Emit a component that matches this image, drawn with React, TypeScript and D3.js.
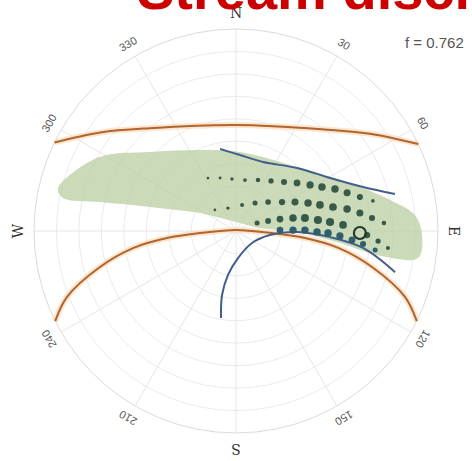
import React, { useEffect, useRef } from 'react';
import * as d3 from 'd3';

const width = 472;
const height = 461;
const cx = 236;
const cy = 231;
const R = 202;

// sky positions, azimuth / zenith in degrees
const upperArcAz = [296, 306, 320, 0, 40, 54, 64.5];
const upperArcZen = [90, 74.7, 59.8, 47.2, 59.2, 73.7, 90];
const lowerArcAz = [243.5, 248.7, 255.2, 260.6, 264.2, 266.8, 0, 93.2, 95.8, 99.4, 104.8, 111.3, 116.5];
const lowerArcZen = [90, 80.8, 62.7, 46.5, 30.9, 16, 0.5, 16, 30.9, 46.5, 62.7, 80.8, 90];

const bandAz = [283, 285.7, 298.6, 312.6, 336, 2.9, 43.6, 66.2, 78.6, 84.9, 91.2, 98.4, 99.8, 96.6, 90.9, 82.9, 26.6, 306.4, 296.6, 285.6, 282, 280.8];
const bandZen = [81.5, 80.5, 69, 52, 39.5, 35.2, 39.4, 54, 70, 80, 82.9, 82, 65.1, 46.6, 27.2, 10.8, 4, 10.5, 17.9, 39.8, 61.9, 78.5];

const upperStreamAz = [349, 3, 21.4, 44.1, 60.6, 70.9, 76.9];
const upperStreamZen = [37.2, 33.9, 33, 39.1, 48.1, 59.9, 72.7];
const lowerStreamAz = [189.8, 192.3, 190.3, 175.8, 126.9, 96.7, 90.9, 93.7, 97.6, 104.5];
const lowerStreamZen = [39.3, 29.2, 19.9, 12.1, 8.9, 15.2, 27.2, 42, 57.1, 73.2];

// dot grid, east / north offsets from zenith in degrees, with density
const row1E = [-12.5, -7.1, -1.8, 4.0, 9.8, 15.6, 21.4, 27.2, 33.0, 38.3, 44.1, 49.5, 55.2, 61.0];
const row1N = [23.6, 23.6, 23.2, 22.7, 22.7, 22.3, 21.8, 21.4, 20.5, 19.6, 18.7, 17.0, 15.1, 13.4];
const row1D = [0.1, 0.12, 0.16, 0.2, 0.28, 0.37, 0.5, 0.62, 0.71, 0.75, 0.75, 0.67, 0.5, 0.18];
const row2E = [-9.4, -3.6, 2.7, 8.5, 14.3, 20.5, 26.3, 32.1, 37.4, 43.2, 49.5, 55.2, 60.6, 65.9];
const row2N = [9.4, 10.2, 11.6, 12.5, 12.9, 12.9, 12.9, 12.5, 11.6, 10.7, 9.8, 8.0, 5.8, 3.6];
const row2D = [0.1, 0.16, 0.22, 0.34, 0.43, 0.54, 0.67, 0.75, 0.8, 0.8, 0.75, 0.67, 0.5, 0.28];
const row3E = [9.4, 14.3, 19.6, 25.4, 30.7, 36.5, 41.9, 47.7, 58.4, 63.3, 67.7];
const row3N = [3.6, 4.5, 5.3, 5.8, 5.8, 4.9, 4.0, 2.7, -1.8, -4.5, -7.6];
const row3D = [0.34, 0.47, 0.62, 0.75, 0.85, 0.9, 0.9, 0.8, 0.54, 0.37, 0.22];
const row4E = [19.6, 25.4, 30.7, 36.1, 41.0, 46.3, 51.7, 56.6, 62.0];
const row4N = [0.4, 0.4, 0.4, -0.4, -0.9, -2.2, -4.0, -5.8, -8.5];
const row4D = [0.62, 0.71, 0.75, 0.75, 0.75, 0.71, 0.62, 0.5, 0.34];

const markerE = 55.2;
const markerN = -0.9;

const rings = [10, 20, 30, 40, 50, 60, 70, 80, 90];
const spokes = [0, 30, 60, 90, 120, 150, 180, 210, 240, 270, 300, 330];
const cardinals = ['N', 'E', 'S', 'W'];
const cardinalAz = [0, 90, 180, 270];
const degreeTicks = [30, 60, 120, 150, 210, 240, 300, 330];

const App: React.FC = () => {
  const ref = useRef<SVGSVGElement>(null);

  useEffect(() => {
    const { current: svgEl } = ref;
    if (!svgEl) {
      return;
    }
    const svg = d3.select(svgEl);
    svg.selectAll('*').remove();

    const r = d3.scaleLinear().domain([0, 90]).range([0, R]);
    const size = d3.scaleSqrt().domain([0, 1]).range([0, 4.3]);
    const rad = (a: number) => (a * Math.PI) / 180;
    const polar = (az: number, zen: number): [number, number] => [
      cx + r(zen) * Math.sin(rad(az)),
      cy - r(zen) * Math.cos(rad(az)),
    ];
    const pts = (az: number[], zen: number[]) => az.map((a, i) => polar(a, zen[i]));

    const line = d3.line().curve(d3.curveCatmullRom.alpha(0.5));
    const closed = d3.line().curve(d3.curveCatmullRomClosed.alpha(0.5));

    // grid
    const grid = svg.append('g');
    grid
      .selectAll('circle')
      .data(rings)
      .join('circle')
      .attr('cx', cx)
      .attr('cy', cy)
      .attr('r', (d) => r(d))
      .attr('fill', 'none')
      .attr('stroke', (d) => (d === 90 ? '#dadada' : '#ebebeb'))
      .attr('stroke-width', 1);
    grid
      .selectAll('line')
      .data(spokes)
      .join('line')
      .attr('x1', cx)
      .attr('y1', cy)
      .attr('x2', (d) => polar(d, 90)[0])
      .attr('y2', (d) => polar(d, 90)[1])
      .attr('stroke', '#e6e6e6');

    // green band
    svg
      .append('path')
      .attr('d', closed(pts(bandAz, bandZen)))
      .attr('fill', '#b9cda0')
      .attr('fill-opacity', 0.75);

    // orange arcs
    [pts(upperArcAz, upperArcZen), pts(lowerArcAz, lowerArcZen)].forEach((p) => {
      svg
        .append('path')
        .attr('d', line(p))
        .attr('fill', 'none')
        .attr('stroke', '#fbdcba')
        .attr('stroke-width', 6)
        .attr('stroke-opacity', 0.7);
      svg
        .append('path')
        .attr('d', line(p))
        .attr('fill', 'none')
        .attr('stroke', '#b0642e')
        .attr('stroke-width', 2);
    });

    // blue stream lines
    [pts(upperStreamAz, upperStreamZen), pts(lowerStreamAz, lowerStreamZen)].forEach((p) => {
      svg
        .append('path')
        .attr('d', line(p))
        .attr('fill', 'none')
        .attr('stroke', '#425f8a')
        .attr('stroke-width', 2);
    });

    // dots
    const rows = [
      { e: row1E, n: row1N, d: row1D, c: '#395a48' },
      { e: row2E, n: row2N, d: row2D, c: '#395a48' },
      { e: row3E, n: row3N, d: row3D, c: '#355a4a' },
      { e: row4E, n: row4N, d: row4D, c: '#2f5e6c' },
    ];
    rows.forEach((row) => {
      svg
        .append('g')
        .selectAll('circle')
        .data(row.e.map((e, i) => ({ e, n: row.n[i], d: row.d[i] })))
        .join('circle')
        .attr('cx', (d) => cx + r(d.e))
        .attr('cy', (d) => cy - r(d.n))
        .attr('r', (d) => size(d.d))
        .attr('fill', row.c);
    });

    svg
      .append('circle')
      .attr('cx', cx + r(markerE))
      .attr('cy', cy - r(markerN))
      .attr('r', 6)
      .attr('fill', 'none')
      .attr('stroke', '#22392a')
      .attr('stroke-width', 2.2);

    // direction labels
    svg
      .append('g')
      .selectAll('text')
      .data(cardinals)
      .join('text')
      .attr('transform', (d, i) => {
        const [x, y] = polar(cardinalAz[i], 90 + 16 * (90 / R));
        return `translate(${x},${y}) rotate(${cardinalAz[i]})`;
      })
      .attr('text-anchor', 'middle')
      .attr('dominant-baseline', 'central')
      .attr('font-family', 'DejaVu Serif, serif')
      .attr('font-size', 14)
      .attr('fill', '#333')
      .text((d) => d);

    svg
      .append('g')
      .selectAll('text')
      .data(degreeTicks)
      .join('text')
      .attr('transform', (d) => {
        const [x, y] = polar(d, 90 + 14 * (90 / R));
        return `translate(${x},${y}) rotate(${d})`;
      })
      .attr('text-anchor', 'middle')
      .attr('dominant-baseline', 'central')
      .attr('font-family', 'Liberation Sans, Arial, sans-serif')
      .attr('font-size', 11)
      .attr('fill', '#555')
      .text((d) => d);

    svg
      .append('text')
      .attr('x', 405)
      .attr('y', 48)
      .attr('font-family', 'Liberation Sans, Arial, sans-serif')
      .attr('font-size', 15)
      .attr('fill', '#555')
      .text('f = 0.762');

    svg
      .append('text')
      .attr('x', 137)
      .attr('y', 9)
      .attr('font-family', 'Liberation Sans, Arial, sans-serif')
      .attr('font-weight', 'bold')
      .attr('font-size', 56)
      .attr('fill', '#cc0000')
      .text('Stream discharge');
  }, []);

  return (
    <svg
      ref={ref}
      width={width}
      height={height}
      style={{ position: 'absolute', left: 0, top: 0, background: '#fff' }}
    />
  );
};

export default App;
